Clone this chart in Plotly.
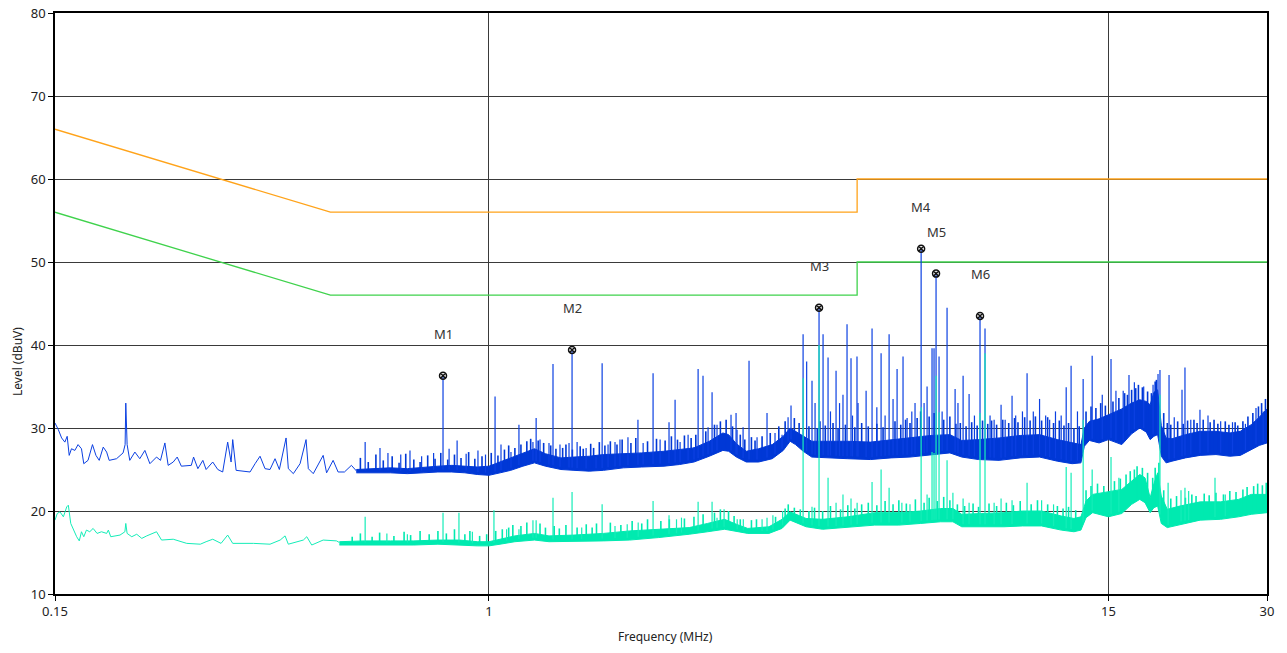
import numpy as np
import plotly.graph_objects as go

# ---------------- limits (dBuV) ----------------
QP_LIMIT_F = [0.15, 0.5, 5.0, 5.0, 30.0]
QP_LIMIT_L = [66.0, 56.0, 56.0, 60.0, 60.0]
AV_LIMIT_F = [0.15, 0.5, 5.0, 5.0, 30.0]
AV_LIMIT_L = [56.0, 46.0, 46.0, 50.0, 50.0]

# ---------------- peak detector trace ----------------
# sparse sweep section (single line)
PK_LINE_F = [0.1500, 0.1522, 0.1544, 0.1566, 0.1582, 0.1596, 0.1612, 0.1636, 0.1659, 0.1684,
             0.1701, 0.1733, 0.1767, 0.1794, 0.1820, 0.1852, 0.1880, 0.1901, 0.1963, 0.2020,
             0.2038, 0.2044, 0.2056, 0.2080, 0.2127, 0.2173, 0.2222, 0.2271, 0.2338, 0.2379,
             0.2425, 0.2460, 0.2515, 0.2559, 0.2606, 0.2722, 0.2749, 0.2801, 0.2863, 0.2904,
             0.2989, 0.3056, 0.3122, 0.3191, 0.3239, 0.3262, 0.3311, 0.3519, 0.3597, 0.3676,
             0.3757, 0.3840, 0.3925, 0.4000, 0.4119, 0.4160, 0.4252, 0.4379, 0.4495, 0.4540,
             0.4639, 0.4844, 0.4917, 0.5060, 0.5171, 0.5316, 0.5481, 0.5626]
PK_LINE_L = [30.6, 29.8, 28.8, 28.3, 29.0, 26.7, 27.5, 27.3, 28.0, 27.5,
             25.7, 26.1, 28.0, 26.7, 26.1, 27.7, 27.1, 26.1, 26.3, 27.0,
             28.0, 33.0, 28.0, 26.1, 27.1, 26.3, 27.3, 25.7, 26.5, 26.1,
             28.2, 25.5, 25.9, 26.5, 25.4, 25.5, 26.5, 25.1, 26.1, 25.0,
             25.9, 25.0, 24.7, 28.3, 25.9, 28.6, 24.9, 24.7, 25.7, 26.6,
             25.1, 25.0, 26.3, 25.0, 28.8, 25.1, 24.5, 25.7, 28.6, 25.1,
             24.5, 26.7, 24.6, 26.1, 24.7, 24.7, 25.5, 24.7]
# dense sweep section (min / max envelope)
PK_BAND_F = [0.56, 0.60, 0.65, 0.70, 0.75, 0.80, 0.85, 0.90, 0.95, 1.00,
             1.05, 1.10, 1.16, 1.22, 1.28, 1.37, 1.45, 1.55, 1.65, 1.80,
             1.95, 2.15, 2.30, 2.45, 2.62, 2.78, 2.85, 2.95, 3.08, 3.25,
             3.45, 3.62, 3.73, 3.82, 3.95, 4.10, 4.40, 4.80, 5.30, 5.80,
             6.30, 6.90, 7.50, 7.90, 8.50, 9.30, 10.2, 11.1, 12.0, 12.8,
             13.3, 13.5, 13.8, 14.4, 15.0, 15.9, 16.6, 17.2, 17.7, 18.0,
             18.3, 18.6, 18.9, 19.3, 19.8, 21.0, 22.4, 24.0, 25.5, 26.7,
             28.0, 29.0, 30.0]
PK_BAND_LO = [24.6, 24.6, 24.6, 24.5, 24.6, 24.7, 24.7, 24.6, 24.4, 24.3,
              24.6, 24.9, 25.4, 25.8, 25.4, 25.0, 24.9, 24.8, 24.9, 25.2,
              25.3, 25.4, 25.6, 25.9, 26.6, 27.3, 27.2, 26.5, 25.9, 25.9,
              26.3, 27.3, 28.4, 28.0, 27.2, 26.5, 26.4, 26.3, 26.2, 26.4,
              26.5, 26.8, 27.0, 26.5, 26.2, 26.1, 26.4, 26.5, 26.0, 25.7,
              25.8, 27.8, 28.5, 28.2, 28.6, 28.0, 29.3, 30.0, 29.5, 28.6,
              29.0, 29.2, 26.6, 25.8, 26.0, 26.4, 26.7, 26.8, 26.6, 26.7,
              27.4, 27.9, 28.2]
PK_BAND_HI = [25.0, 25.1, 25.2, 25.1, 25.3, 25.4, 25.5, 25.4, 25.3, 25.4,
              25.9, 26.4, 27.0, 27.5, 26.9, 26.4, 26.5, 26.6, 26.8, 26.9,
              27.0, 27.2, 27.4, 27.6, 28.4, 29.4, 29.2, 28.1, 27.2, 27.5,
              28.0, 29.0, 30.0, 29.6, 29.0, 28.4, 28.4, 28.4, 28.3, 28.6,
              28.8, 29.1, 29.2, 28.5, 28.6, 28.8, 29.1, 29.2, 28.6, 28.2,
              28.0, 30.0, 30.8, 31.1, 31.6, 32.3, 33.0, 33.4, 33.2, 32.8,
              34.3, 34.6, 30.3, 28.8, 28.7, 29.2, 29.6, 29.6, 29.4, 29.6,
              30.4, 31.3, 32.3]
# fine structure riding on the noise floor
PK_GRASS_F = [0.57, 0.59, 0.61, 0.63, 0.655, 0.675, 0.695, 0.72, 0.74, 0.765,
              0.79, 0.81, 0.835, 0.86, 0.885, 0.915, 0.94, 0.97, 1.01, 1.04,
              1.07, 1.09, 1.12, 1.15, 1.18, 1.20, 1.24, 1.27, 1.31, 1.34,
              1.38, 1.40, 1.44, 1.49, 1.51, 1.56, 1.58, 1.62, 1.66, 1.70,
              1.75, 1.79, 1.86, 1.90, 2.00, 2.08, 2.16, 2.22, 2.28, 2.35,
              2.42, 2.47, 2.58, 2.68, 2.75, 2.82, 2.90, 3.00, 3.06, 3.15,
              3.20, 3.30, 3.42, 3.55, 3.65, 3.80, 3.88, 4.05, 4.20, 4.25,
              4.35, 4.50, 4.60, 4.75, 4.95, 5.10, 5.25, 5.45, 5.60, 5.90,
              6.05, 6.18, 6.30, 6.50, 6.60, 6.85, 7.00, 7.30, 7.50, 7.70,
              7.85, 8.05, 8.25, 8.45, 8.65, 8.85, 9.00, 9.20, 9.45, 9.70,
              9.95, 10.1, 10.4, 10.65, 10.9, 11.2, 11.5, 11.8, 12.1, 12.35,
              12.6, 12.9, 13.2, 13.6, 13.9, 14.2, 14.5, 14.8, 15.3, 15.7,
              16.1, 16.3, 16.6, 16.9, 17.1, 17.4, 17.8, 18.1, 18.4, 18.5,
              19.1, 19.4, 19.7, 20.3, 20.8, 21.2, 21.8, 22.1, 22.7, 23.4,
              23.8, 24.2, 25.0, 25.4, 26.1, 26.4, 27.0, 27.6, 28.2, 28.9,
              29.3, 29.8]
PK_GRASS_TOP = [26.4, 25.9, 26.8, 26.1, 26.6, 25.8, 26.9, 26.2, 25.9, 26.7,
                26.3, 27.0, 26.2, 26.8, 26.4, 27.1, 26.3, 26.6, 27.0, 26.7,
                27.4, 27.9, 27.6, 28.0, 28.4, 28.7, 28.5, 28.2, 27.9, 27.5,
                27.6, 28.0, 27.4, 27.8, 27.5, 28.1, 27.6, 28.3, 27.9, 28.4,
                28.0, 28.6, 28.2, 28.8, 28.4, 28.7, 28.5, 29.0, 28.6, 29.1,
                28.8, 29.2, 29.6, 30.4, 30.8, 31.0, 30.2, 29.2, 28.6, 28.9,
                28.5, 29.0, 29.4, 30.2, 30.8, 31.2, 30.6, 30.2, 30.0, 30.8,
                30.3, 30.6, 30.0, 30.4, 30.1, 30.6, 30.2, 30.5, 30.1, 30.8,
                30.4, 31.0, 30.6, 31.2, 32.0, 31.4, 31.8, 31.0, 31.4, 30.5,
                30.6, 30.2, 30.7, 30.3, 30.9, 30.5, 30.9, 30.4, 31.0, 30.6,
                31.2, 30.7, 31.3, 30.9, 31.4, 30.9, 31.3, 30.6, 30.9, 30.3,
                30.6, 30.0, 30.2, 32.0, 32.6, 32.4, 33.0, 32.7, 33.2, 33.6,
                34.2, 34.0, 34.6, 34.8, 35.2, 34.9, 34.4, 34.2, 35.6, 35.8,
                31.8, 30.6, 30.4, 30.8, 30.5, 30.9, 31.0, 30.6, 31.0, 30.7,
                31.0, 30.5, 30.8, 30.4, 30.7, 30.3, 30.8, 31.4, 31.8, 32.6,
                33.0, 33.5]
# narrowband emissions above the noise floor
PK_SPIKE_F = [0.582, 0.621, 0.643, 0.680, 0.708, 0.745, 0.785, 0.840, 0.870, 0.905,
              0.953, 0.985, 1.027, 1.054, 1.101, 1.140, 1.212, 1.229, 1.250, 1.300,
              1.323, 1.364, 1.419, 1.470, 1.529, 1.597, 1.640, 1.683, 1.735, 1.773,
              1.836, 1.918, 1.962, 2.049, 2.113, 2.197, 2.256, 2.306, 2.388, 2.451,
              2.495, 2.549, 2.606, 2.652, 2.710, 2.881, 2.945, 2.958, 3.037, 3.117,
              3.228, 3.372, 3.492, 3.601, 3.697, 3.745, 3.948, 4.010, 4.105, 4.160,
              4.308, 4.403, 4.450, 4.560, 4.630, 4.700, 4.784, 4.868, 4.900, 4.997,
              5.020, 5.200, 5.337, 5.450, 5.552, 5.650, 5.750, 5.850, 5.954, 6.111,
              6.221, 6.350, 6.440, 6.700, 6.788, 6.937, 6.998, 7.153, 7.250, 7.408,
              7.673, 7.770, 7.946, 8.157, 8.350, 8.745, 8.940, 9.100, 9.381, 9.550,
              9.842, 10.00, 10.30, 10.51, 10.80, 11.10, 11.40, 11.60, 11.90, 12.20,
              12.47, 12.74, 13.10, 13.43, 13.97, 14.60, 15.17, 15.50, 16.00, 16.41,
              16.80, 17.50, 18.23, 18.63, 18.79, 19.55, 20.00, 20.69, 20.96, 21.50,
              22.38, 23.18, 24.50, 25.80, 27.30, 28.59, 29.50]
PK_SPIKE_TOP = [28.3, 27.6, 27.0, 26.8, 27.3, 26.6, 27.0, 27.5, 28.5, 26.9,
                27.3, 26.8, 33.8, 28.0, 27.1, 30.4, 28.3, 31.2, 28.6, 28.2,
                37.7, 28.0, 28.2, 28.3, 27.6, 26.5, 37.8, 28.0, 28.3, 28.6,
                28.9, 31.0, 28.2, 36.6, 28.6, 30.7, 33.4, 28.3, 29.2, 27.7,
                37.1, 36.3, 30.1, 34.3, 30.4, 31.6, 31.8, 29.8, 30.1, 38.1,
                28.9, 31.8, 29.4, 29.2, 31.3, 32.7, 41.3, 38.0, 35.7, 33.0,
                41.3, 38.5, 32.0, 36.9, 33.0, 34.0, 42.5, 38.4, 31.5, 38.6,
                33.0, 34.5, 42.0, 32.5, 39.0, 31.5, 41.3, 33.5, 37.1, 38.6,
                31.2, 32.0, 33.0, 33.0, 35.0, 39.6, 39.6, 38.6, 32.0, 44.5,
                34.7, 33.0, 36.3, 34.1, 31.5, 42.0, 31.5, 31.0, 32.8, 31.0,
                33.9, 31.5, 32.0, 36.6, 32.0, 33.5, 31.5, 31.0, 32.0, 31.5,
                34.9, 37.5, 32.0, 35.9, 38.7, 34.0, 38.3, 34.5, 34.5, 36.4,
                35.5, 35.0, 35.2, 36.5, 37.0, 36.4, 31.3, 34.6, 37.3, 31.0,
                32.2, 31.5, 30.8, 30.7, 30.5, 32.4, 32.0]

# ---------------- average detector trace ----------------
AV_LINE_F = [0.1500, 0.1515, 0.1533, 0.1556, 0.1579, 0.1590, 0.1607, 0.1625, 0.1649, 0.1668,
             0.1684, 0.1701, 0.1721, 0.1746, 0.1772, 0.1803, 0.1838, 0.1880, 0.1894, 0.1914,
             0.1993, 0.2036, 0.2044, 0.2056, 0.2098, 0.2144, 0.2192, 0.2240, 0.2338, 0.2390,
             0.2515, 0.2668, 0.2831, 0.2904, 0.2989, 0.3100, 0.3191, 0.3262, 0.3571, 0.3840,
             0.4014, 0.4101, 0.4160, 0.4442, 0.4509, 0.4608, 0.4844, 0.5135, 0.5200]
AV_LINE_L = [18.9, 19.7, 19.9, 19.3, 20.5, 20.7, 18.5, 17.7, 16.9, 16.4,
             17.5, 16.9, 17.7, 17.5, 17.9, 17.3, 17.5, 17.3, 17.7, 16.9,
             17.1, 17.5, 18.5, 17.3, 16.9, 17.2, 16.7, 17.0, 17.5, 16.5,
             16.6, 16.1, 16.0, 16.3, 16.6, 16.1, 17.1, 16.1, 16.1, 16.0,
             16.5, 17.0, 16.0, 16.5, 16.9, 15.9, 16.5, 16.4, 16.2]
AV_BAND_F = [0.52, 0.58, 0.65, 0.72, 0.80, 0.88, 0.95, 1.00, 1.05, 1.12,
             1.22, 1.30, 1.45, 1.65, 1.85, 2.10, 2.40, 2.60, 2.80, 2.95,
             3.10, 3.40, 3.60, 3.73, 3.85, 4.00, 4.30, 4.80, 5.40, 6.00,
             6.60, 7.20, 7.60, 7.90, 8.60, 9.50, 10.3, 11.2, 12.2, 12.9,
             13.3, 13.6, 14.0, 15.0, 15.9, 16.6, 17.2, 17.6, 18.0, 18.3,
             18.6, 18.9, 19.4, 20.5, 22.4, 24.5, 26.5, 28.0, 30.0]
AV_BAND_LO = [15.9, 15.9, 15.9, 15.9, 16.0, 15.9, 15.8, 15.8, 16.0, 16.3,
              16.5, 16.3, 16.3, 16.4, 16.5, 16.8, 17.2, 17.5, 17.8, 17.5,
              17.3, 17.3, 17.9, 18.9, 18.5, 18.1, 17.8, 18.0, 18.3, 18.3,
              18.5, 18.7, 18.7, 18.1, 18.1, 18.1, 18.2, 18.2, 17.7, 17.5,
              17.7, 19.2, 19.8, 19.3, 19.7, 20.8, 21.4, 21.0, 19.8, 20.4,
              20.6, 18.5, 18.0, 18.4, 18.9, 19.0, 19.3, 19.6, 19.8]
AV_BAND_HI = [16.3, 16.4, 16.4, 16.4, 16.5, 16.5, 16.3, 16.3, 16.6, 17.0,
              17.3, 17.0, 17.1, 17.3, 17.6, 17.8, 18.0, 18.5, 19.0, 18.4,
              17.9, 18.1, 19.0, 19.9, 19.5, 19.1, 19.0, 19.3, 19.8, 19.8,
              20.0, 20.3, 20.3, 19.6, 19.7, 19.8, 20.0, 20.0, 19.4, 19.1,
              19.3, 21.2, 22.0, 22.3, 22.6, 23.6, 24.4, 24.0, 21.6, 23.3,
              24.6, 21.8, 20.2, 20.6, 21.1, 21.1, 21.4, 22.0, 22.0]
AV_GRASS_F = [0.55, 0.57, 0.60, 0.62, 0.66, 0.69, 0.71, 0.74, 0.77, 0.80,
              0.83, 0.86, 0.90, 0.92, 0.96, 0.99, 1.03, 1.06, 1.09, 1.11,
              1.15, 1.18, 1.25, 1.28, 1.33, 1.36, 1.40, 1.47, 1.53, 1.57,
              1.60, 1.70, 1.78, 1.87, 1.95, 2.00, 2.12, 2.20, 2.35, 2.45,
              2.55, 2.68, 2.75, 2.85, 2.92, 3.00, 3.15, 3.22, 3.50, 3.65,
              3.70, 3.80, 3.90, 4.05, 4.15, 4.30, 4.45, 4.65, 4.80, 4.95,
              5.10, 5.25, 5.45, 5.65, 5.85, 6.00, 6.20, 6.45, 6.70, 6.85,
              7.10, 7.30, 7.50, 7.75, 8.00, 8.30, 8.50, 8.90, 9.20, 9.60,
              9.90, 10.2, 10.7, 11.0, 11.5, 12.0, 12.3, 12.6, 13.0, 13.6,
              13.9, 14.3, 14.7, 15.4, 15.8, 16.2, 16.5, 16.8, 17.0, 17.4,
              17.8, 18.2, 18.4, 18.7, 19.1, 19.7, 20.2, 21.0, 21.6, 22.0,
              22.8, 23.3, 24.0, 24.8, 25.5, 26.2, 27.0, 27.5, 28.3, 28.8,
              29.4, 29.9]
AV_GRASS_TOP = [16.9, 17.3, 16.9, 17.4, 17.0, 17.5, 17.1, 17.6, 17.2, 17.6,
                17.3, 17.8, 17.2, 17.6, 17.0, 17.2, 17.6, 17.8, 18.0, 18.3,
                18.2, 18.6, 18.5, 18.0, 18.2, 17.9, 18.3, 18.0, 18.4, 18.0,
                18.5, 18.6, 18.3, 18.8, 18.5, 19.0, 18.8, 19.0, 19.1, 19.3,
                19.6, 19.8, 20.2, 20.0, 19.4, 19.0, 18.9, 19.0, 19.3, 20.3,
                20.8, 20.4, 20.2, 20.0, 20.4, 20.0, 20.6, 20.2, 20.7, 20.3,
                20.8, 21.0, 20.7, 21.2, 20.8, 21.3, 20.9, 21.4, 21.0, 21.6,
                21.2, 21.7, 21.3, 20.8, 20.6, 20.9, 20.5, 20.9, 20.6, 21.0,
                20.7, 21.2, 20.8, 21.3, 20.8, 20.6, 20.3, 20.5, 20.1, 22.5,
                23.0, 23.3, 23.0, 23.6, 23.9, 24.4, 24.8, 25.0, 25.4, 25.2,
                24.6, 24.0, 25.2, 25.8, 22.5, 21.5, 21.8, 21.6, 22.0, 21.8,
                22.1, 21.9, 22.2, 22.0, 22.4, 22.3, 22.6, 22.9, 23.0, 23.3,
                23.1, 23.4]
AV_SPIKE_F = [0.582, 0.640, 0.700, 0.818, 0.877, 0.930, 1.022, 1.080, 1.140, 1.212,
              1.229, 1.323, 1.438, 1.500, 1.640, 1.735, 1.830, 1.920, 2.049, 2.197,
              2.270, 2.320, 2.495, 2.652, 2.710, 2.795, 2.960, 3.040, 3.300, 3.372,
              3.460, 3.610, 3.948, 4.105, 4.233, 4.403, 4.560, 4.700, 4.868, 5.000,
              5.337, 5.552, 5.750, 6.080, 6.300, 6.614, 6.788, 6.937, 6.998, 7.060,
              7.153, 7.408, 7.600, 7.946, 8.157, 8.556, 8.745, 9.100, 9.381, 9.842,
              10.51, 11.20, 11.80, 12.47, 12.74, 13.43, 13.97, 15.17, 15.70, 18.79,
              19.47, 20.60, 20.96, 21.30, 23.90, 25.00]
AV_SPIKE_TOP = [19.3, 17.3, 17.2, 19.8, 19.8, 17.5, 20.1, 17.8, 17.8, 18.9,
                18.9, 21.6, 22.3, 18.0, 20.8, 18.2, 18.4, 18.6, 21.2, 19.5,
                19.0, 19.2, 21.1, 21.1, 19.2, 20.2, 19.0, 19.0, 19.0, 19.2,
                19.5, 20.0, 36.0, 20.5, 40.0, 24.0, 21.0, 22.0, 21.5, 21.0,
                23.5, 25.0, 22.8, 21.0, 20.8, 32.5, 22.0, 27.1, 27.0, 36.3,
                31.9, 26.1, 22.2, 21.5, 21.0, 31.8, 39.0, 21.0, 21.5, 21.3,
                23.4, 21.3, 20.8, 25.3, 24.6, 31.0, 25.0, 26.5, 24.0, 34.0,
                23.4, 22.5, 22.8, 22.4, 24.0, 22.0]

# ---------------- markers ----------------
MARKER_NAMES = ["M1", "M2", "M3", "M4", "M5", "M6"]
MARKER_F = [0.818, 1.438, 4.233, 6.614, 7.060, 8.556]
MARKER_L = [36.3, 39.4, 44.5, 51.6, 48.6, 43.5]

# axis ticks
X_TICKS = [0.15, 1, 15, 30]
X_TICK_TEXT = ["0.15", "1", "15", "30"]
Y_TICKS = [10, 20, 30, 40, 50, 60, 70, 80]

PK_COLOR = "#0038d6"
PK_SPIKE_COLOR = "#0b40e2"
AV_COLOR = "#00eab0"
AV_SPIKE_COLOR = "#14edb8"


def band_polygon(f, lo, hi):
    return list(f) + list(f)[::-1], list(hi) + list(lo)[::-1]


def spike_segments(sf, top, band_f, band_lo):
    # each emission is a vertical segment rising out of the noise floor
    root = np.interp(np.log10(sf), np.log10(band_f), band_lo) + 0.3
    xs, ys = [], []
    for f, r, t in zip(sf, root, top):
        xs += [f, f, None]
        ys += [r, t, None]
    return xs, ys


fig = go.Figure()

# limit lines
fig.add_trace(go.Scatter(x=QP_LIMIT_F, y=QP_LIMIT_L, mode="lines",
                         line=dict(color="#ffa31a", width=1.3), hoverinfo="skip"))
fig.add_trace(go.Scatter(x=AV_LIMIT_F, y=AV_LIMIT_L, mode="lines",
                         line=dict(color="#3fd24c", width=1.3), hoverinfo="skip"))

# peak trace
px, py = band_polygon(PK_BAND_F, PK_BAND_LO, PK_BAND_HI)
fig.add_trace(go.Scatter(x=px, y=py, mode="lines", fill="toself", fillcolor=PK_COLOR,
                         line=dict(color=PK_COLOR, width=1), hoverinfo="skip"))
fig.add_trace(go.Scatter(x=PK_LINE_F, y=PK_LINE_L, mode="lines",
                         line=dict(color=PK_SPIKE_COLOR, width=1), hoverinfo="skip"))
gx, gy = spike_segments(PK_GRASS_F, PK_GRASS_TOP, PK_BAND_F, PK_BAND_LO)
fig.add_trace(go.Scatter(x=gx, y=gy, mode="lines",
                         line=dict(color=PK_COLOR, width=1.6), hoverinfo="skip"))
sx, sy = spike_segments(PK_SPIKE_F + MARKER_F, PK_SPIKE_TOP + MARKER_L, PK_BAND_F, PK_BAND_LO)
fig.add_trace(go.Scatter(x=sx, y=sy, mode="lines",
                         line=dict(color=PK_SPIKE_COLOR, width=1.2), hoverinfo="skip"))

# average trace
ax_, ay_ = band_polygon(AV_BAND_F, AV_BAND_LO, AV_BAND_HI)
fig.add_trace(go.Scatter(x=ax_, y=ay_, mode="lines", fill="toself", fillcolor=AV_COLOR,
                         line=dict(color=AV_COLOR, width=1), hoverinfo="skip"))
fig.add_trace(go.Scatter(x=AV_LINE_F, y=AV_LINE_L, mode="lines",
                         line=dict(color=AV_SPIKE_COLOR, width=1), hoverinfo="skip"))
gx, gy = spike_segments(AV_GRASS_F, AV_GRASS_TOP, AV_BAND_F, AV_BAND_LO)
fig.add_trace(go.Scatter(x=gx, y=gy, mode="lines",
                         line=dict(color=AV_COLOR, width=1.6), hoverinfo="skip"))
sx, sy = spike_segments(AV_SPIKE_F, AV_SPIKE_TOP, AV_BAND_F, AV_BAND_LO)
fig.add_trace(go.Scatter(x=sx, y=sy, mode="lines",
                         line=dict(color=AV_SPIKE_COLOR, width=1.2), hoverinfo="skip"))

# markers
fig.add_trace(go.Scatter(x=MARKER_F, y=MARKER_L, mode="markers",
                         marker=dict(symbol="circle-x-open", size=7, color="#111",
                                     line=dict(width=1.5, color="#111")),
                         hoverinfo="skip"))
for name, f, lvl in zip(MARKER_NAMES, MARKER_F, MARKER_L):
    fig.add_annotation(x=np.log10(f), y=lvl, text=name, showarrow=False, yshift=42,
                       font=dict(size=13, color="#333", family="Noto Sans"))

# axis titles
fig.add_annotation(xref="paper", yref="paper", x=0.504, y=-0.074, yanchor="middle",
                   text="Frequency (MHz)", showarrow=False,
                   font=dict(size=12, color="#222", family="Noto Sans"))
fig.add_annotation(xref="paper", yref="paper", x=-0.031, y=0.40, textangle=-90,
                   xanchor="center", yanchor="middle", text="Level (dBuV)", showarrow=False,
                   font=dict(size=12, color="#222", family="Noto Sans"))

axis_common = dict(showline=True, linecolor="#000", linewidth=1.5, mirror=True,
                   ticks="outside", ticklen=5, tickcolor="#000", tickwidth=1,
                   showgrid=True, gridcolor="#3a3a3a", gridwidth=1.3, zeroline=False,
                   tickfont=dict(size=13, color="#222", family="Noto Sans"))

fig.update_xaxes(type="log", range=[np.log10(0.15), np.log10(30)],
                 tickvals=X_TICKS, ticktext=X_TICK_TEXT, **axis_common)
fig.update_yaxes(range=[10, 80], tickvals=Y_TICKS, **axis_common)

fig.update_layout(width=1287, height=653, showlegend=False,
                  margin=dict(l=55, r=20, t=13, b=59, autoexpand=False),
                  paper_bgcolor="white", plot_bgcolor="white")

fig.write_html("out.html")
